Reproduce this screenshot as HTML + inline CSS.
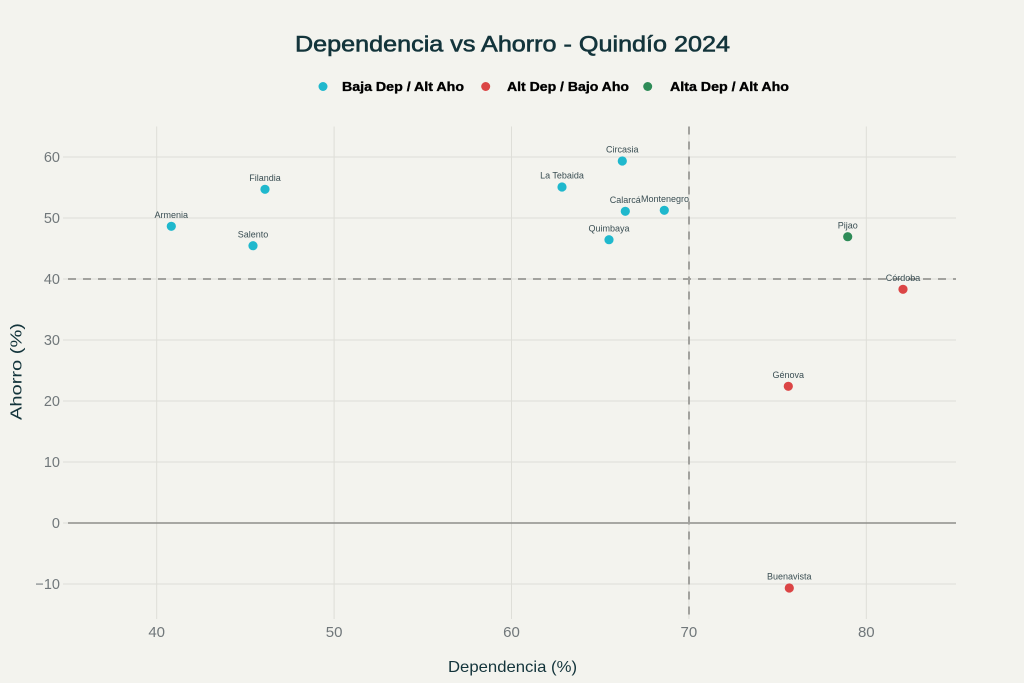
<!DOCTYPE html>
<html><head><meta charset="utf-8"><style>
html,body{margin:0;padding:0;background:#F3F3EE;}
svg{display:block;}
text{font-family:"Liberation Sans",sans-serif;}
</style></head><body>
<svg width="1024" height="683" viewBox="0 0 1024 683" xmlns="http://www.w3.org/2000/svg">
<rect x="0" y="0" width="1024" height="683" fill="#F3F3EE"/>
<!-- title -->
<text x="512.5" y="51.5" text-anchor="middle" font-size="22" fill="#13343B" stroke="#13343B" stroke-width="0.6" textLength="435" lengthAdjust="spacingAndGlyphs">Dependencia vs Ahorro - Quindío 2024</text>
<!-- legend -->
<circle cx="323" cy="86.5" r="4.5" fill="#1FB8CD"/>
<text x="342" y="91" font-size="12.5" font-weight="bold" fill="#000" stroke="#000" stroke-width="0.35" textLength="122" lengthAdjust="spacingAndGlyphs">Baja Dep / Alt Aho</text>
<circle cx="485.7" cy="86.5" r="4.5" fill="#DB4545"/>
<text x="507" y="91" font-size="12.5" font-weight="bold" fill="#000" stroke="#000" stroke-width="0.35" textLength="122" lengthAdjust="spacingAndGlyphs">Alt Dep / Bajo Aho</text>
<circle cx="647.7" cy="86.5" r="4.5" fill="#2E8B57"/>
<text x="670" y="91" font-size="12.5" font-weight="bold" fill="#000" stroke="#000" stroke-width="0.35" textLength="119" lengthAdjust="spacingAndGlyphs">Alta Dep / Alt Aho</text>

<!-- grid horizontal (with outside ticks) -->
<g stroke="#DEDED8" stroke-width="1">
<line x1="63" y1="157" x2="956" y2="157"/>
<line x1="63" y1="218" x2="956" y2="218"/>
<line x1="63" y1="279" x2="956" y2="279"/>
<line x1="63" y1="340" x2="956" y2="340"/>
<line x1="63" y1="401" x2="956" y2="401"/>
<line x1="63" y1="462" x2="956" y2="462"/>
<line x1="63" y1="523" x2="68" y2="523"/>
<line x1="63" y1="584" x2="956" y2="584"/>
<!-- vertical -->
<line x1="156.7" y1="126.5" x2="156.7" y2="619"/>
<line x1="334.1" y1="126.5" x2="334.1" y2="619"/>
<line x1="511.5" y1="126.5" x2="511.5" y2="619"/>
<line x1="688.9" y1="126.5" x2="688.9" y2="619"/>
<line x1="866.3" y1="126.5" x2="866.3" y2="619"/>
</g>
<!-- zero line -->
<line x1="68" y1="523" x2="956" y2="523" stroke="#8E8E8A" stroke-width="1.5"/>
<!-- dashed reference lines -->
<line x1="68" y1="279" x2="956" y2="279" stroke="#A2A29E" stroke-width="2" stroke-dasharray="8,7"/>
<line x1="689" y1="126.5" x2="689" y2="614.5" stroke="#A2A29E" stroke-width="2" stroke-dasharray="8,7"/>

<!-- y tick labels -->
<g font-size="14.5" fill="#70777A" text-anchor="end">
<text x="60" y="162">60</text>
<text x="60" y="223">50</text>
<text x="60" y="284">40</text>
<text x="60" y="345">30</text>
<text x="60" y="406">20</text>
<text x="60" y="467">10</text>
<text x="60" y="528">0</text>
<text x="60" y="589">−10</text>
</g>
<!-- x tick labels -->
<g font-size="15" fill="#70777A" text-anchor="middle">
<text x="156.7" y="637">40</text>
<text x="334.1" y="637">50</text>
<text x="511.5" y="637">60</text>
<text x="688.9" y="637">70</text>
<text x="866.3" y="637">80</text>
</g>
<!-- axis titles -->
<text x="512.5" y="672" text-anchor="middle" font-size="16" fill="#13343B" textLength="129" lengthAdjust="spacingAndGlyphs">Dependencia (%)</text>
<text transform="translate(21.5,371.5) rotate(-90)" text-anchor="middle" font-size="16" fill="#13343B" textLength="97" lengthAdjust="spacingAndGlyphs">Ahorro (%)</text>

<!-- points -->
<g>
<circle cx="171.3" cy="226.3" r="4.6" fill="#1FB8CD"/>
<circle cx="265" cy="189.3" r="4.6" fill="#1FB8CD"/>
<circle cx="253" cy="245.7" r="4.6" fill="#1FB8CD"/>
<circle cx="562" cy="187" r="4.6" fill="#1FB8CD"/>
<circle cx="622.3" cy="161" r="4.6" fill="#1FB8CD"/>
<circle cx="625.3" cy="211.3" r="4.6" fill="#1FB8CD"/>
<circle cx="664.3" cy="210.3" r="4.6" fill="#1FB8CD"/>
<circle cx="609" cy="239.7" r="4.6" fill="#1FB8CD"/>
<circle cx="847.7" cy="236.7" r="4.6" fill="#2E8B57"/>
<circle cx="903" cy="289.3" r="4.6" fill="#DB4545"/>
<circle cx="788.3" cy="386.3" r="4.6" fill="#DB4545"/>
<circle cx="789.3" cy="588" r="4.6" fill="#DB4545"/>
</g>
<!-- point labels -->
<g font-size="9" fill="#3A4E53" text-anchor="middle">
<text x="171.3" y="218">Armenia</text>
<text x="265" y="181">Filandia</text>
<text x="253" y="237.5">Salento</text>
<text x="562" y="178.5">La Tebaida</text>
<text x="622.3" y="152.5">Circasia</text>
<text x="625.3" y="203">Calarcá</text>
<text x="665" y="202">Montenegro</text>
<text x="609" y="231.5">Quimbaya</text>
<text x="847.7" y="228.5">Pijao</text>
<text x="903" y="281">Córdoba</text>
<text x="788.3" y="378">Génova</text>
<text x="789.3" y="579.5">Buenavista</text>
</g>
</svg>
</body></html>
